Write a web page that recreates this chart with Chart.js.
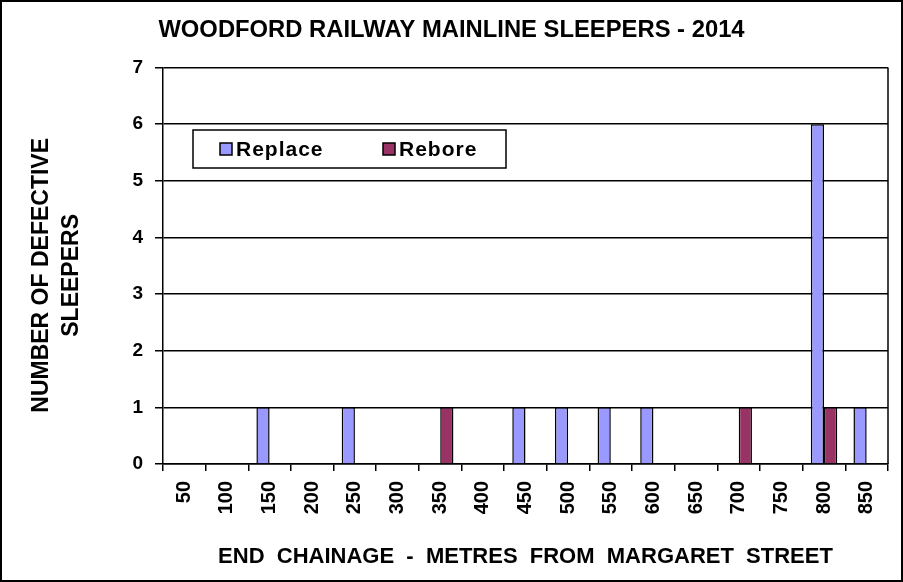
<!DOCTYPE html>
<html>
<head>
<meta charset="utf-8">
<script src="https://cdn.jsdelivr.net/npm/chart.js@4/dist/chart.umd.min.js"></script>
<style>
    html, body { margin: 0; padding: 0; background: #fff; }
    #wrap { width: 903px; height: 582px; position: relative; }
</style>
</head>
<body>
<div id="wrap"><canvas id="chart" width="903" height="582"></canvas></div>
<script>
// chainage categories (end chainage, metres)
const chainages = ['50', '100', '150', '200', '250', '300', '350', '400', '450',
    '500', '550', '600', '650', '700', '750', '800', '850'];
const replaceCounts = [0, 0, 1, 0, 1, 0, 0, 0, 1, 1, 1, 1, 0, 0, 0, 6, 1];
const reboreCounts = [0, 0, 0, 0, 0, 0, 1, 0, 0, 0, 0, 0, 0, 1, 0, 1, 0];
const yTickValues = [0, 1, 2, 3, 4, 5, 6, 7];

const FONT = "'Liberation Sans', Arial, sans-serif";
Chart.defaults.font.family = FONT;
Chart.defaults.color = '#000';

// frame round the whole picture + right edge of plot + the boxed legend
const framePlugin = {
    id: 'frame',
    afterDraw(chart) {
        const ctx = chart.ctx;
        const area = chart.chartArea;
        ctx.save();
        ctx.strokeStyle = '#000';
        ctx.lineWidth = 2;
        ctx.strokeRect(1, 1, chart.width - 2, chart.height - 2);

        ctx.lineWidth = 1.5;
        ctx.beginPath();
        ctx.moveTo(area.right, area.top);
        ctx.lineTo(area.right, area.bottom);
        ctx.stroke();

        // legend box
        const bx = 193, by = 130, bw = 313, bh = 38;
        ctx.fillStyle = '#fff';
        ctx.fillRect(bx, by, bw, bh);
        ctx.strokeRect(bx, by, bw, bh);
        ctx.font = 'bold 21px ' + FONT;
        ctx.letterSpacing = '1px';
        ctx.textBaseline = 'middle';
        const items = [{ x: 220 }, { x: 383 }];
        chart.data.datasets.forEach((ds, i) => {
            const x = items[i].x, y = by + bh / 2;
            ctx.fillStyle = ds.backgroundColor;
            ctx.fillRect(x, y - 6, 12, 12);
            ctx.lineWidth = 1.5;
            ctx.strokeRect(x, y - 6, 12, 12);
            ctx.fillStyle = '#000';
            ctx.textAlign = 'left';
            ctx.fillText(ds.label, x + 16, y + 1);
        });
        ctx.restore();
    }
};

new Chart(document.getElementById('chart'), {
    type: 'bar',
    data: {
        labels: chainages,
        datasets: [{
            label: 'Replace',
            data: replaceCounts,
            backgroundColor: '#9999FF',
            borderColor: '#000',
            borderWidth: 1.5,
            categoryPercentage: 0.62,
            barPercentage: 1
        }, {
            label: 'Rebore',
            data: reboreCounts,
            backgroundColor: '#993366',
            borderColor: '#000',
            borderWidth: 1.5,
            categoryPercentage: 0.62,
            barPercentage: 1
        }]
    },
    options: {
        responsive: false,
        animation: false,
        layout: { padding: 0 },
        plugins: {
            legend: { display: false },
            tooltip: { enabled: false },
            title: {
                display: true,
                text: 'WOODFORD RAILWAY MAINLINE SLEEPERS - 2014',
                color: '#000',
                font: { size: 23.8, weight: 'bold', lineHeight: 1.2 },
                padding: { top: 16, bottom: 23 }
            }
        },
        scales: {
            x: {
                afterFit(scale) { scale.height = 118; },
                grid: {
                    offset: true,
                    drawOnChartArea: false,
                    drawTicks: true,
                    tickLength: 7,
                    color: '#000',
                    lineWidth: 1.5
                },
                border: { display: true, color: '#000', width: 1.5 },
                ticks: {
                    autoSkip: false,
                    minRotation: 90,
                    maxRotation: 90,
                    padding: 10,
                    color: '#000',
                    font: { size: 20, weight: 'bold' }
                },
                title: {
                    display: true,
                    text: 'END  CHAINAGE  -  METRES  FROM  MARGARET  STREET',
                    color: '#000',
                    font: { size: 22, weight: 'bold', lineHeight: 1.2 },
                    padding: { top: 0, bottom: 12 }
                }
            },
            y: {
                min: 0,
                max: 7,
                afterFit(scale) { scale.width = 163; },
                afterBuildTicks(scale) { scale.ticks = yTickValues.map(v => ({ value: v })); },
                grid: {
                    color: '#000',
                    lineWidth: 1.5,
                    tickLength: 8
                },
                border: { display: true, color: '#000', width: 1.5 },
                ticks: {
                    padding: 12,
                    color: '#000',
                    font: { size: 19, weight: 'bold' }
                },
                title: {
                    display: true,
                    text: ['NUMBER OF DEFECTIVE   ', 'SLEEPERS   '],
                    color: '#000',
                    font: { size: 23, weight: 'bold', lineHeight: 1.3 },
                    padding: { top: 27, bottom: 0 }
                }
            },
            // empty right-hand strip so the title stays centred on the page
            yRight: {
                position: 'right',
                min: 0,
                max: 7,
                afterFit(scale) { scale.width = 15; },
                grid: { display: false, drawTicks: false },
                border: { display: false },
                ticks: { display: false }
            }
        }
    },
    plugins: [framePlugin]
});
</script>
</body>
</html>
